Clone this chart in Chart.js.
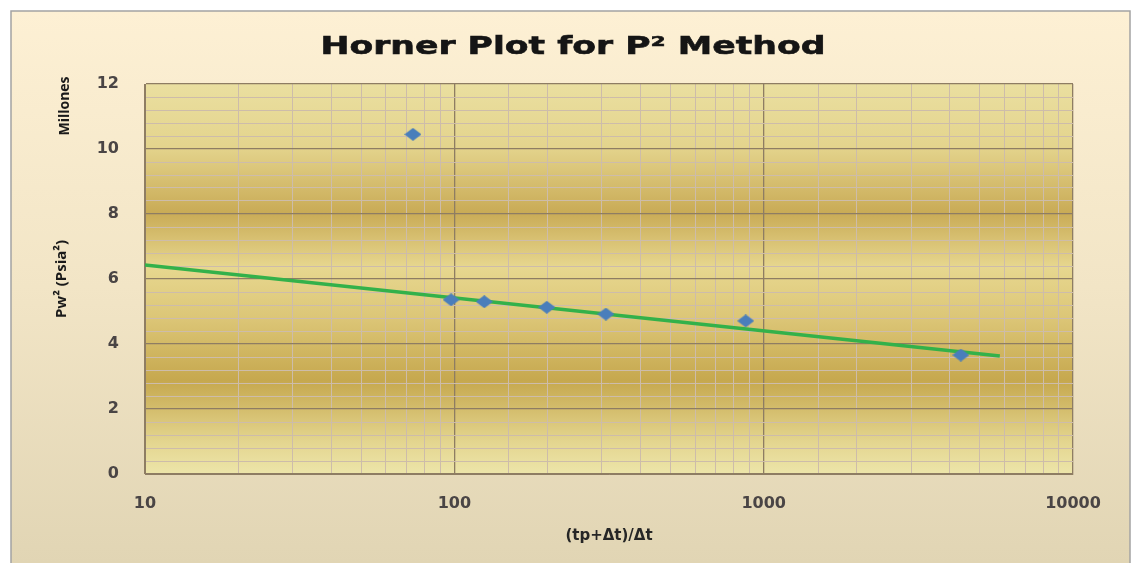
<!DOCTYPE html>
<html>
<head>
<meta charset="utf-8">
<script src="https://cdn.jsdelivr.net/npm/chart.js@4.4.1/dist/chart.umd.min.js"></script>
<style>
  html, body { margin: 0; padding: 0; background: #ffffff; }
  #wrap { width: 1134px; height: 563px; }
</style>
</head>
<body>
<div id="wrap"><canvas id="myChart" width="1134" height="563"></canvas></div>
<script>
// pressure-squared build-up points, (tp+dt)/dt vs Pw^2 in millions
var hornerTime = [73.5, 97.6, 125, 199, 309, 875, 4340];
var pwSquared = [10.45, 5.36, 5.3, 5.13, 4.92, 4.71, 3.66];

// straight-line fit over the semilog section
var fitTime = [10, 5800];
var fitValue = [6.43, 3.63];

var xTickValues = [10, 100, 1000, 10000];
var yTickValues = [0, 2, 4, 6, 8, 10, 12];

var titleText = "Horner Plot for P\u00b2 Method";

var majorGrid = "#8e7d63";
var minorGrid = "#cdbcaa";

function isDecade(v) {
    return xTickValues.some(function (t) { return Math.abs(t - v) < 1e-6; });
}
function isLabelledY(v) {
    return yTickValues.some(function (t) { return Math.abs(t - v) < 1e-6; });
}

// Excel-like diamond, a bit wider than tall
function makeDiamond(w, h, color) {
    var c = document.createElement("canvas");
    c.width = w;
    c.height = h;
    var g = c.getContext("2d");
    g.fillStyle = color;
    g.beginPath();
    g.moveTo(w / 2, 0);
    g.lineTo(w, h / 2);
    g.lineTo(w / 2, h);
    g.lineTo(0, h / 2);
    g.closePath();
    g.fill();
    return c;
}

var backgroundPlugin = {
    id: "panelBackground",
    beforeDraw: function (chart) {
        var ctx = chart.ctx;
        var area = chart.chartArea;
        ctx.save();
        ctx.fillStyle = "#ffffff";
        ctx.fillRect(0, 0, chart.width, chart.height);

        // outer frame
        var g = ctx.createLinearGradient(0, 11, 0, chart.height);
        g.addColorStop(0, "#fdf0d4");
        g.addColorStop(0.5, "#f2e5c6");
        g.addColorStop(1, "#e1d5b4");
        ctx.fillStyle = g;
        ctx.fillRect(11, 11, 1119, chart.height);
        ctx.strokeStyle = "#a3a3a3";
        ctx.lineWidth = 1.5;
        ctx.strokeRect(11, 11, 1119, chart.height + 5);

        // banded plot area
        var p = ctx.createLinearGradient(0, area.top, 0, area.bottom);
        p.addColorStop(0, "#eadfa0");
        p.addColorStop(0.16, "#e4d48d");
        p.addColorStop(0.33, "#c9ab56");
        p.addColorStop(0.47, "#e7d78f");
        p.addColorStop(0.6, "#dcc677");
        p.addColorStop(0.76, "#c6a84e");
        p.addColorStop(0.92, "#e4d690");
        p.addColorStop(1, "#ede5aa");
        ctx.fillStyle = p;
        ctx.fillRect(area.left, area.top, area.right - area.left, area.bottom - area.top);
        ctx.restore();
    },
    afterDraw: function (chart) {
        var ctx = chart.ctx;
        ctx.save();
        // title, stretched wide and a touch heavier
        ctx.font = "bold 25px 'DejaVu Sans'";
        ctx.fillStyle = "#151515";
        ctx.strokeStyle = "#151515";
        ctx.lineWidth = 0.6;
        ctx.textAlign = "center";
        ctx.textBaseline = "alphabetic";
        var sx = 505 / ctx.measureText(titleText).width;
        ctx.translate(573, 54);
        ctx.scale(sx, 1);
        ctx.fillText(titleText, 0, 0);
        ctx.strokeText(titleText, 0, 0);
        ctx.restore();

        ctx.save();
        ctx.translate(65, 106);
        ctx.rotate(-Math.PI / 2);
        ctx.fillStyle = "#1a1a1a";
        ctx.font = "bold 14px 'Open Sans'";
        ctx.textAlign = "center";
        ctx.textBaseline = "middle";
        ctx.fillText("Millones", 0, 0);
        ctx.restore();
    }
};

var tickFont = { family: "'DejaVu Sans'", size: 16, weight: "bold" };

var chart = new Chart(document.getElementById("myChart"), {
    type: "scatter",
    data: {
        datasets: [
            {
                label: "Pw2",
                data: hornerTime.map(function (t, i) { return { x: t, y: pwSquared[i] }; }),
                pointStyle: makeDiamond(17, 13, "#4a7ebb"),
                pointRadius: 7,
                pointHoverRadius: 7,
                order: 1
            },
            {
                label: "Fit",
                type: "line",
                data: fitTime.map(function (t, i) { return { x: t, y: fitValue[i] }; }),
                borderColor: "#33b14a",
                borderWidth: 3.5,
                pointRadius: 0,
                fill: false,
                order: 2
            }
        ]
    },
    options: {
        responsive: false,
        animation: false,
        layout: { padding: { left: 0, right: 61, top: 84, bottom: 0 } },
        plugins: {
            legend: { display: false },
            tooltip: { enabled: false },
            title: { display: false }
        },
        scales: {
            x: {
                type: "logarithmic",
                min: 10,
                max: 10000,
                afterFit: function (s) { s.height = 89; },
                border: { display: true, color: majorGrid, width: 1 },
                grid: {
                    drawTicks: false,
                    color: function (c) { return isDecade(c.tick.value) ? majorGrid : minorGrid; },
                    lineWidth: function (c) { return isDecade(c.tick.value) ? 1.3 : 1; }
                },
                ticks: {
                    autoSkip: false,
                    maxRotation: 0,
                    padding: 20,
                    color: "#4a4545",
                    font: tickFont,
                    callback: function (v) { return isDecade(v) ? String(Math.round(v)) : ""; }
                },
                title: {
                    display: true,
                    text: "(tp+\u0394t)/\u0394t",
                    color: "#262626",
                    font: { family: "'DejaVu Sans'", size: 15, weight: "bold" },
                    padding: { top: 18, bottom: 18 }
                }
            },
            y: {
                min: 0,
                max: 12,
                afterFit: function (s) { s.width = 145; },
                border: { display: true, color: majorGrid, width: 1 },
                grid: {
                    drawTicks: false,
                    color: function (c) { return isLabelledY(c.tick.value) ? majorGrid : minorGrid; },
                    lineWidth: function (c) { return isLabelledY(c.tick.value) ? 1.3 : 1; }
                },
                ticks: {
                    stepSize: 0.4,
                    autoSkip: false,
                    padding: 26,
                    color: "#4a4545",
                    font: tickFont,
                    callback: function (v) { return isLabelledY(v) ? String(Math.round(v)) : ""; }
                },
                title: {
                    display: true,
                    text: "Pw\u00b2 (Psia\u00b2)",
                    color: "#1a1a1a",
                    font: { family: "'Open Sans'", size: 15, weight: "bold" },
                    padding: { top: 53, bottom: 0 }
                }
            }
        }
    },
    plugins: [backgroundPlugin]
});
</script>
</body>
</html>
